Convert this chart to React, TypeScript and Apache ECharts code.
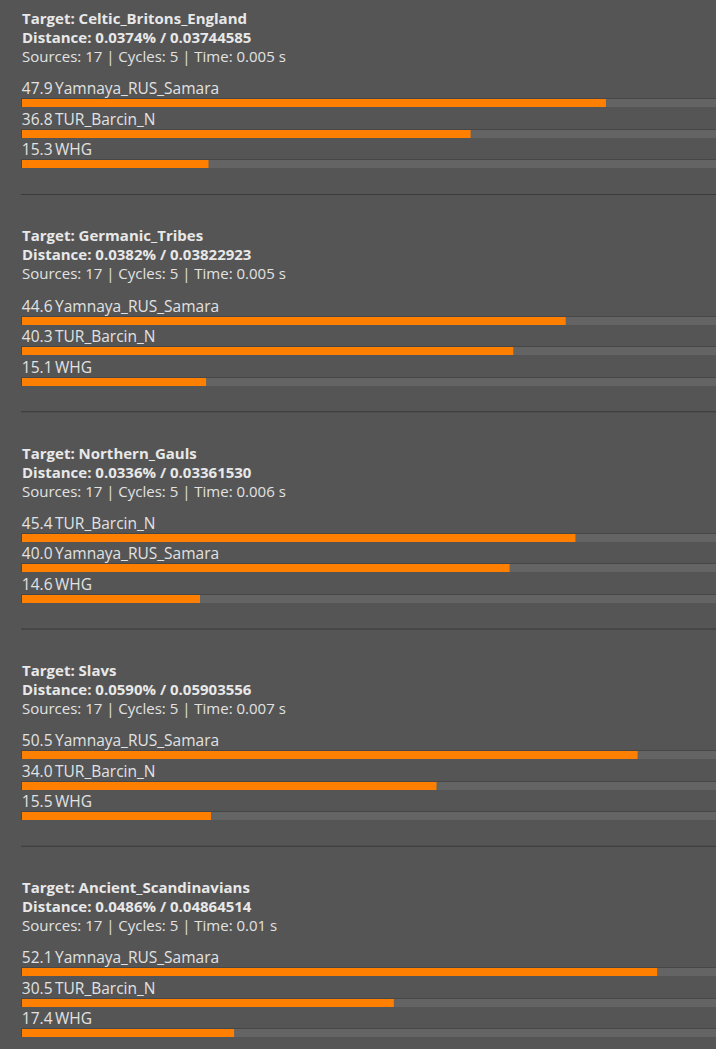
import React, { useEffect, useRef } from "react";
import * as echarts from "echarts";

const targets = ["Celtic_Britons_England", "Germanic_Tribes", "Northern_Gauls", "Slavs", "Ancient_Scandinavians"];
const distancePct = ["0.0374", "0.0382", "0.0336", "0.0590", "0.0486"];
const distanceRaw = ["0.03744585", "0.03822923", "0.03361530", "0.05903556", "0.04864514"];
const sourceCounts = [17, 17, 17, 17, 17];
const cycleCounts = [5, 5, 5, 5, 5];
const times = ["0.005", "0.005", "0.006", "0.007", "0.01"];
const sourceNames = [
  ["Yamnaya_RUS_Samara", "TUR_Barcin_N", "WHG"],
  ["Yamnaya_RUS_Samara", "TUR_Barcin_N", "WHG"],
  ["TUR_Barcin_N", "Yamnaya_RUS_Samara", "WHG"],
  ["Yamnaya_RUS_Samara", "TUR_Barcin_N", "WHG"],
  ["Yamnaya_RUS_Samara", "TUR_Barcin_N", "WHG"],
];
const sourceValues = [
  [47.9, 36.8, 15.3],
  [44.6, 40.3, 15.1],
  [45.4, 40.0, 14.6],
  [50.5, 34.0, 15.5],
  [52.1, 30.5, 17.4],
];
// value (in %) reached at the right edge of the visible track
const VISIBLE_MAX = 56.93;

const FONT = "'Open Sans', 'Noto Sans', sans-serif";
const PITCH = 217.25;
const TEXT = "#e2e2e2";

export default function App() {
  const ref = useRef<HTMLDivElement>(null);
  useEffect(() => {
    const chart = echarts.init(ref.current!, null, { renderer: "svg" });
    const grids: any[] = [];
    const xAxes: any[] = [];
    const yAxes: any[] = [];
    const series: any[] = [];
    const graphics: any[] = [];
    targets.forEach((t, i) => {
      const off = i * PITCH;
      grids.push({ left: 22, right: 0, top: 88 + off, height: 91.5 });
      xAxes.push({ gridIndex: i, type: "value", min: 0, max: VISIBLE_MAX, show: false });
      yAxes.push({ gridIndex: i, type: "category", inverse: true, data: sourceNames[i], show: false });
      const names = sourceNames[i];
      series.push({
        type: "custom",
        xAxisIndex: i,
        yAxisIndex: i,
        encode: { x: 0, y: 1 },
        data: sourceValues[i].map((v, k) => [v, k]),
        renderItem: (params: any, api: any) => {
          const v = api.value(0);
          const idx = api.value(1);
          const p0 = api.coord([0, idx]);
          const p1 = api.coord([v, idx]);
          const pe = api.coord([VISIBLE_MAX, idx]);
          const x0 = p0[0];
          const top = Math.round(p0[1] - 4);
          const font = `15.5px ${FONT}`;
          return {
            type: "group",
            children: [
              { type: "rect", shape: { x: x0 - 1, y: top - 1, width: pe[0] - x0 + 1, height: 1 }, style: { fill: "#474747" } },
              { type: "rect", shape: { x: x0 - 1, y: top, width: 1, height: 8 }, style: { fill: "#474747" } },
              { type: "rect", shape: { x: x0, y: top, width: pe[0] - x0, height: 8 }, style: { fill: "#646464" } },
              { type: "rect", shape: { x: x0, y: top, width: p1[0] - x0, height: 8 }, style: { fill: "#ff8000" } },
              { type: "text", style: { text: v.toFixed(1), x: x0 + 30.5, y: top - 11.5, align: "right", verticalAlign: "middle", fill: TEXT, font } },
              { type: "text", style: { text: names[params.dataIndex], x: x0 + 33, y: top - 11.5, align: "left", verticalAlign: "middle", fill: TEXT, font } },
            ],
          };
        },
      });
      graphics.push(
        { type: "text", style: { x: 22, y: 18 + off, verticalAlign: "middle", text: `Target: ${t}`, fill: "#e8e8e8", font: `bold 15px ${FONT}` } },
        { type: "text", style: { x: 22, y: 37 + off, verticalAlign: "middle", text: `Distance: ${distancePct[i]}% / ${distanceRaw[i]}`, fill: "#e8e8e8", font: `bold 15px ${FONT}` } },
        { type: "text", style: { x: 22, y: 56 + off, verticalAlign: "middle", text: `Sources: ${sourceCounts[i]} | Cycles: ${cycleCounts[i]} | Time: ${times[i]} s`, fill: TEXT, font: `15px ${FONT}` } },
        { type: "line", shape: { x1: 21, y1: 194.5 + off, x2: 716, y2: 194.5 + off }, style: { stroke: "#3a3a3a", lineWidth: 1 } }
      );
    });
    chart.setOption({
      animation: false,
      backgroundColor: "#555555",
      grid: grids,
      xAxis: xAxes,
      yAxis: yAxes,
      series,
      graphic: graphics,
    });
    return () => chart.dispose();
  }, []);
  return <div ref={ref} style={{ position: "absolute", left: 0, top: 0, width: 716, height: 1049 }} />;
}
